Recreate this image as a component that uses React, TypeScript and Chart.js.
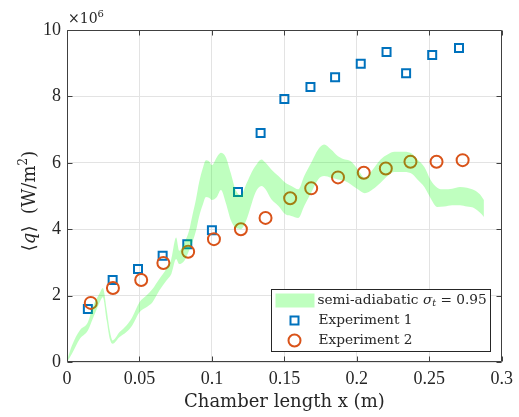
import React, { useEffect, useRef } from 'react';
import { Chart, registerables } from 'chart.js';

Chart.register(...registerables);

// Axis ticks
const xTicks = [0, 0.05, 0.1, 0.15, 0.2, 0.25, 0.3];
const xTickLabels = ['0', '0.05', '0.1', '0.15', '0.2', '0.25', '0.3'];
const yTicks = [0, 2, 4, 6, 8, 10];
const yTickLabels = ['0', '2', '4', '6', '8', '10'];

// Simulation band (heat flux in units of 1e6 W/m^2)
const bandX = [0, 0.0034, 0.0089, 0.0144, 0.0178, 0.0226, 0.0247, 0.0274, 0.0295, 0.0315, 0.0363, 0.041, 0.045, 0.05, 0.0548, 0.059, 0.0637, 0.0685, 0.072, 0.0753, 0.0774, 0.081, 0.0842, 0.0863, 0.089, 0.0911, 0.0938, 0.0959, 0.098, 0.1, 0.1034, 0.1062, 0.1096, 0.113, 0.1164, 0.1199, 0.124, 0.1267, 0.13, 0.1342, 0.137, 0.141, 0.1459, 0.1507, 0.1548, 0.1596, 0.1637, 0.1685, 0.1733, 0.1774, 0.1822, 0.187, 0.1918, 0.1959, 0.2007, 0.2055, 0.211, 0.2164, 0.2212, 0.226, 0.2315, 0.237, 0.2418, 0.2466, 0.2507, 0.2555, 0.2603, 0.2658, 0.2712, 0.276, 0.2808, 0.2849, 0.2877];
const bandUpper = [0.05, 0.5, 0.96, 1.2, 1.66, 2.08, 2.23, 1.57, 0.95, 0.65, 0.9, 1.1, 1.35, 1.8, 2.0, 2.2, 2.5, 2.8, 3.1, 3.75, 3.35, 3.6, 3.95, 4.37, 4.9, 5.4, 5.85, 6.08, 6.05, 5.93, 6.17, 6.3, 6.17, 5.69, 5.18, 5.03, 5.39, 5.65, 5.9, 6.1, 6.0, 5.8, 5.6, 5.4, 5.3, 5.2, 5.6, 6.0, 6.4, 6.55, 6.4, 6.2, 6.1, 6.05, 5.8, 5.55, 5.8, 6.1, 6.25, 6.33, 6.33, 6.3, 6.1, 5.87, 5.5, 5.25, 5.2, 5.22, 5.27, 5.25, 5.18, 5.05, 4.88];
const bandLower = [0, 0.25, 0.7, 0.95, 1.3, 1.8, 1.95, 1.25, 0.7, 0.55, 0.75, 0.9, 1.1, 1.5, 1.65, 1.8, 2.15, 2.45, 2.65, 3.1, 2.95, 3.05, 3.35, 3.58, 3.95, 4.37, 4.75, 4.97, 4.95, 4.88, 4.97, 5.18, 4.79, 4.28, 4.04, 4.0, 4.3, 4.67, 5.1, 5.3, 5.2, 4.9, 4.7, 4.45, 4.4, 4.34, 4.7, 5.1, 5.5, 5.6, 5.55, 5.5, 5.45, 5.35, 5.2, 5.08, 5.2, 5.4, 5.6, 5.72, 5.72, 5.69, 5.5, 5.27, 4.95, 4.67, 4.68, 4.72, 4.72, 4.68, 4.64, 4.5, 4.37];

// Experiment 1 (squares)
const exp1X = [0.0144, 0.0315, 0.049, 0.066, 0.083, 0.1, 0.118, 0.1336, 0.15, 0.168, 0.185, 0.2027, 0.2205, 0.234, 0.252, 0.2705];
const exp1Y = [1.6, 2.47, 2.8, 3.2, 3.55, 3.97, 5.12, 6.9, 7.92, 8.28, 8.58, 8.98, 9.34, 8.7, 9.25, 9.46];

// Experiment 2 (circles)
const exp2X = [0.0164, 0.0317, 0.0512, 0.0665, 0.0836, 0.1014, 0.12, 0.137, 0.154, 0.1685, 0.187, 0.2048, 0.22, 0.237, 0.255, 0.273];
const exp2Y = [1.78, 2.23, 2.47, 2.98, 3.32, 3.7, 4.0, 4.34, 4.93, 5.23, 5.56, 5.7, 5.83, 6.03, 6.03, 6.08];

const legendLabels = ['semi-adiabatic ', 'Experiment 1', 'Experiment 2'];

const BLUE = '#0072BD';
const ORANGE = '#D95319';
const BAND = 'rgba(0,255,0,0.25)';
const TEXT = '#262626';
const SERIF = '"DejaVu Serif", serif';

const zip = (xs: number[], ys: number[]) => xs.map((x, i) => ({ x, y: ys[i] }));

function drawSegments(ctx: CanvasRenderingContext2D, segs: { t: string; font: string; dy?: number }[], x: number, y: number, align: 'left' | 'center') {
  let total = 0;
  for (const s of segs) { ctx.font = s.font; total += ctx.measureText(s.t).width; }
  let cx = align === 'center' ? x - total / 2 : x;
  for (const s of segs) {
    ctx.font = s.font;
    ctx.fillText(s.t, cx, y + (s.dy || 0));
    cx += ctx.measureText(s.t).width;
  }
}

const decor = {
  id: 'decor',
  afterDraw(chart: any) {
    const { ctx, chartArea: a, scales } = chart;
    ctx.save();
    // box
    const L = Math.round(a.left) + 0.5, R = Math.round(a.right) - 0.5;
    const T = Math.round(a.top) + 0.5, B = Math.round(a.bottom) - 0.5;
    ctx.strokeStyle = '#404040';
    ctx.lineWidth = 1;
    ctx.beginPath();
    ctx.rect(L, T, R - L, B - T);
    // inward ticks
    const tl = 5;
    for (const v of xTicks) {
      const px = Math.round(scales.x.getPixelForValue(v)) + 0.5;
      ctx.moveTo(px, B); ctx.lineTo(px, B - tl);
      ctx.moveTo(px, T); ctx.lineTo(px, T + tl);
    }
    for (const v of yTicks) {
      const py = Math.round(scales.y.getPixelForValue(v)) + 0.5;
      ctx.moveTo(L, py); ctx.lineTo(L + tl, py);
      ctx.moveTo(R, py); ctx.lineTo(R - tl, py);
    }
    ctx.stroke();

    ctx.fillStyle = TEXT;
    ctx.textBaseline = 'alphabetic';
    ctx.textAlign = 'left';
    // exponent
    drawSegments(ctx, [
      { t: '×10', font: `14px ${SERIF}` },
      { t: '6', font: `10px ${SERIF}`, dy: -6 },
    ], a.left + 1, a.top - 7, 'left');

    // x title
    ctx.textBaseline = 'middle';
    ctx.font = `18px ${SERIF}`;
    ctx.textAlign = 'center';
    ctx.fillText('Chamber length x (m)', (a.left + a.right) / 2, a.bottom + 40);

    // y title
    ctx.textAlign = 'left';
    ctx.textBaseline = 'alphabetic';
    ctx.save();
    ctx.translate(35, (a.top + a.bottom) / 2 + 5);
    ctx.rotate(-Math.PI / 2);
    drawSegments(ctx, [
      { t: '⟨', font: `18px ${SERIF}` },
      { t: 'q', font: `italic 18px ${SERIF}` },
      { t: '⟩  (W/m', font: `18px ${SERIF}` },
      { t: '2', font: `12px ${SERIF}`, dy: -8 },
      { t: ')', font: `18px ${SERIF}` },
    ], 0, 0, 'center');
    ctx.restore();

    // legend
    const bw = 219, bh = 62;
    const bx = Math.round(a.right - 12 - bw) + 0.5;
    const by = Math.round(a.bottom - 11 - bh) + 0.5;
    ctx.fillStyle = '#ffffff';
    ctx.fillRect(bx, by, bw, bh);
    ctx.strokeStyle = TEXT;
    ctx.lineWidth = 1;
    ctx.strokeRect(bx, by, bw, bh);
    const rows = [by + 11, by + 31, by + 51];
    // band swatch
    ctx.fillStyle = BAND;
    ctx.fillRect(bx + 4, rows[0] - 7, 39, 14);
    // square
    ctx.strokeStyle = BLUE;
    ctx.lineWidth = 2;
    ctx.strokeRect(bx + 23 - 4, rows[1] - 4, 8, 8);
    // circle
    ctx.strokeStyle = ORANGE;
    ctx.beginPath();
    ctx.arc(bx + 23, rows[2], 6, 0, Math.PI * 2);
    ctx.stroke();
    // texts
    ctx.fillStyle = TEXT;
    ctx.textBaseline = 'middle';
    const fs = 13.7;
    drawSegments(ctx, [
      { t: legendLabels[0], font: `${fs}px ${SERIF}` },
      { t: 'σ', font: `italic ${fs}px ${SERIF}` },
      { t: 't', font: `italic ${fs * 0.7}px ${SERIF}`, dy: 3 },
      { t: ' = 0.95', font: `${fs}px ${SERIF}` },
    ], bx + 46, rows[0], 'left');
    ctx.font = `${fs}px ${SERIF}`;
    ctx.fillText(legendLabels[1], bx + 47, rows[1]);
    ctx.fillText(legendLabels[2], bx + 47, rows[2]);
    ctx.restore();
  },
};

export default function App() {
  const ref = useRef<HTMLCanvasElement>(null);
  useEffect(() => {
    if (!ref.current) return;
    const tickFont = { family: '"Liberation Serif", serif', size: 18 };
    const chart = new Chart(ref.current, {
      type: 'line',
      data: {
        datasets: [
          {
            label: 'lower', data: zip(bandX, bandLower), borderColor: 'transparent', borderWidth: 0,
            pointRadius: 0, fill: false, cubicInterpolationMode: 'monotone',
          },
          {
            label: 'semi-adiabatic', data: zip(bandX, bandUpper), borderColor: 'transparent', borderWidth: 0,
            pointRadius: 0, fill: '-1', backgroundColor: BAND, cubicInterpolationMode: 'monotone',
          },
          {
            label: 'Experiment 2', data: zip(exp2X, exp2Y), showLine: false, pointStyle: 'circle',
            pointRadius: 6, pointBorderWidth: 2, pointBorderColor: ORANGE, pointBackgroundColor: 'transparent',
          },
          {
            label: 'Experiment 1', data: zip(exp1X, exp1Y), showLine: false, pointStyle: 'rect',
            pointRadius: 5.66, pointBorderWidth: 2, pointBorderColor: BLUE, pointBackgroundColor: 'transparent',
          },
        ] as any,
      },
      options: {
        animation: false,
        responsive: false,
        layout: { padding: { left: 0, right: 14, top: 30, bottom: 0 } },
        plugins: { legend: { display: false }, tooltip: { enabled: false } },
        scales: {
          x: {
            type: 'linear', min: 0, max: 0.3,
            afterBuildTicks: (s: any) => { s.ticks = xTicks.map((v) => ({ value: v })); },
            afterFit: (s: any) => { s.height = 55; },
            grid: { color: '#e3e3e3', drawTicks: false },
            border: { display: false },
            ticks: {
              font: tickFont, color: TEXT, padding: 6, maxRotation: 0, autoSkip: false,
              callback: (v: any) => { const i = xTicks.findIndex((t) => Math.abs(t - v) < 1e-9); return i >= 0 ? xTickLabels[i] : ''; },
            },
          },
          y: {
            type: 'linear', min: 0, max: 10,
            afterBuildTicks: (s: any) => { s.ticks = yTicks.map((v) => ({ value: v })); },
            afterFit: (s: any) => { s.width = 67; },
            grid: { color: '#e3e3e3', drawTicks: false },
            border: { display: false },
            ticks: {
              font: tickFont, color: TEXT, padding: 6, autoSkip: false,
              callback: (v: any) => { const i = yTicks.findIndex((t) => Math.abs(t - v) < 1e-9); return i >= 0 ? yTickLabels[i] : ''; },
            },
          },
        },
      } as any,
      plugins: [decor],
    });
    return () => chart.destroy();
  }, []);
  return (
    <div style={{ position: 'fixed', left: 0, top: 0, width: 519, height: 417, background: '#fff' }}>
      <canvas ref={ref} width={519} height={417} style={{ display: 'block' }} />
    </div>
  );
}
